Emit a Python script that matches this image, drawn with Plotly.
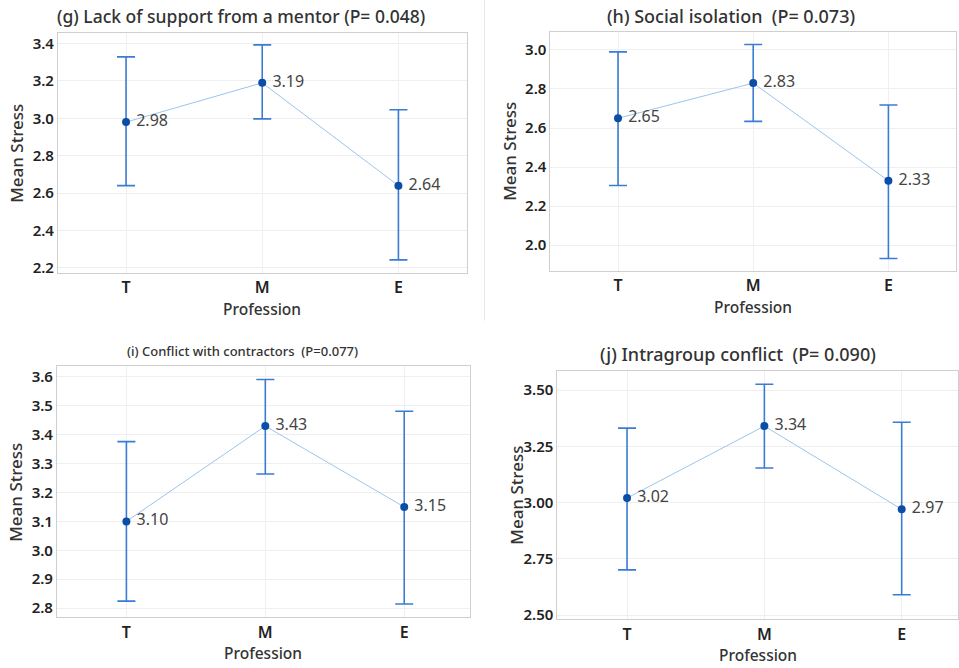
import plotly.graph_objects as go

categories = ["T", "M", "E"]

titles = [
    "(g) Lack of support from a mentor (P= 0.048)",
    "(h) Social isolation\u00a0\u00a0(P= 0.073)",
    "(i) Conflict with contractors\u00a0\u00a0(P=0.077)",
    "(j) Intragroup conflict\u00a0\u00a0(P= 0.090)",
]

means_g = [2.98, 3.19, 2.64]
lower_g = [2.640, 2.997, 2.243]
upper_g = [3.329, 3.393, 3.046]

means_h = [2.65, 2.83, 2.33]
lower_h = [2.306, 2.634, 1.932]
upper_h = [2.990, 3.028, 2.718]

means_i = [3.10, 3.43, 3.15]
lower_i = [2.824, 3.264, 2.814]
upper_i = [3.376, 3.591, 3.481]

means_j = [3.02, 3.34, 2.97]
lower_j = [2.701, 3.154, 2.590]
upper_j = [3.331, 3.526, 3.357]

yticks_g = [2.2, 2.4, 2.6, 2.8, 3.0, 3.2, 3.4]
yticks_h = [2.0, 2.2, 2.4, 2.6, 2.8, 3.0]
yticks_i = [2.8, 2.9, 3.0, 3.1, 3.2, 3.3, 3.4, 3.5, 3.6]
yticks_j = [2.50, 2.75, 3.00, 3.25, 3.50]

W, H = 959, 668
FONT = "Noto Sans, Open Sans, sans-serif"

panels = [
    dict(means=means_g, lo=lower_g, hi=upper_g, ticks=yticks_g, fmt="%.1f",
         xpx=(58, 467), ypx=(33, 275), yr=[2.173, 3.458], xr=[-0.5, 2.5],
         title_xy=(241, 16), title_size=17.5),
    dict(means=means_h, lo=lower_h, hi=upper_h, ticks=yticks_h, fmt="%.1f",
         xpx=(551, 957), ypx=(32, 273), yr=[1.868, 3.093], xr=[-0.5, 2.5],
         title_xy=(732, 16), title_size=18),
    dict(means=means_i, lo=lower_i, hi=upper_i, ticks=yticks_i, fmt="%.1f",
         xpx=(57, 470), ypx=(369, 622), yr=[2.768, 3.637], xr=[-0.5, 2.47],
         title_xy=(243, 354), title_size=13),
    dict(means=means_j, lo=lower_j, hi=upper_j, ticks=yticks_j, fmt="%.2f",
         xpx=(558, 959), ypx=(374, 624), yr=[2.481, 3.584], xr=[-0.507, 2.41],
         title_xy=(739, 357), title_size=18),
]

fig = go.Figure()
annotations = []
for k, p in enumerate(panels):
    idx = "" if k == 0 else str(k + 1)
    xa, ya = "x" + idx, "y" + idx
    xs = list(range(len(categories)))
    fig.add_trace(go.Scatter(
        x=xs, y=p["means"], mode="lines", xaxis=xa, yaxis=ya,
        line=dict(color="#9cc3ee", width=1), hoverinfo="skip", showlegend=False))
    fig.add_trace(go.Scatter(
        x=xs, y=p["means"], mode="markers+text", xaxis=xa, yaxis=ya,
        text=["\u00a0" + "%.2f" % m for m in p["means"]], textposition="middle right",
        textfont=dict(family=FONT, size=16, color="#444444"),
        marker=dict(color="#0b4ea6", size=8),
        error_y=dict(type="data", symmetric=False,
                     array=[h - m for h, m in zip(p["hi"], p["means"])],
                     arrayminus=[m - l for m, l in zip(p["means"], p["lo"])],
                     color="#3a7bd5", thickness=1.6, width=9),
        showlegend=False))
    x0, x1 = p["xpx"]
    y0, y1 = p["ypx"]
    fig.update_layout(**{
        ("xaxis" + idx): dict(
            domain=[x0 / W, x1 / W], range=p["xr"], anchor=ya,
            tickvals=xs, ticktext=categories,
            tickfont=dict(family=FONT, size=16, color="#222222", weight=600),
            ticklabelstandoff=0,
            showgrid=True, gridcolor="#efefef", gridwidth=1,
            showline=True, linecolor="#cfcfcf", linewidth=1, mirror=True,
            ticks="", zeroline=False, fixedrange=True),
        ("yaxis" + idx): dict(
            domain=[1 - y1 / H, 1 - y0 / H], range=p["yr"], anchor=xa,
            tickvals=p["ticks"], ticktext=[p["fmt"] % t for t in p["ticks"]],
            tickfont=dict(family=FONT, size=15, color="#222222", weight=600),
            showgrid=True, gridcolor="#efefef", gridwidth=1,
            showline=True, linecolor="#cfcfcf", linewidth=1, mirror=True,
            ticks="", zeroline=False, fixedrange=True),
    })
    tx, ty = p["title_xy"]
    annotations.append(dict(
        text=titles[k], x=tx / W, y=1 - ty / H, xref="paper", yref="paper",
        xanchor="center", yanchor="middle", showarrow=False,
        font=dict(family=FONT, size=p["title_size"], color="#333333", weight=500)))
    annotations.append(dict(
        text="Profession", x=((x0 + x1) / 2) / W, y=1 - (y1 + 36) / H,
        xref="paper", yref="paper", xanchor="center", yanchor="middle",
        showarrow=False, font=dict(family=FONT, size=15.5, color="#333333", weight=500)))
    annotations.append(dict(
        text="Mean Stress", x=(x0 - 41) / W, y=1 - ((y0 + y1) / 2) / H,
        xref="paper", yref="paper", xanchor="center", yanchor="middle",
        textangle=-90, showarrow=False,
        font=dict(family=FONT, size=17, color="#333333", weight=500)))

fig.update_layout(
    width=W, height=H, margin=dict(l=0, r=0, t=0, b=0),
    paper_bgcolor="white", plot_bgcolor="white",
    annotations=annotations,
    shapes=[dict(type="line", xref="paper", yref="paper",
                 x0=485 / W, x1=485 / W, y0=1 - 323 / H, y1=1.0,
                 line=dict(color="#e6e6e6", width=1))],
)

fig.write_html("out.html")
